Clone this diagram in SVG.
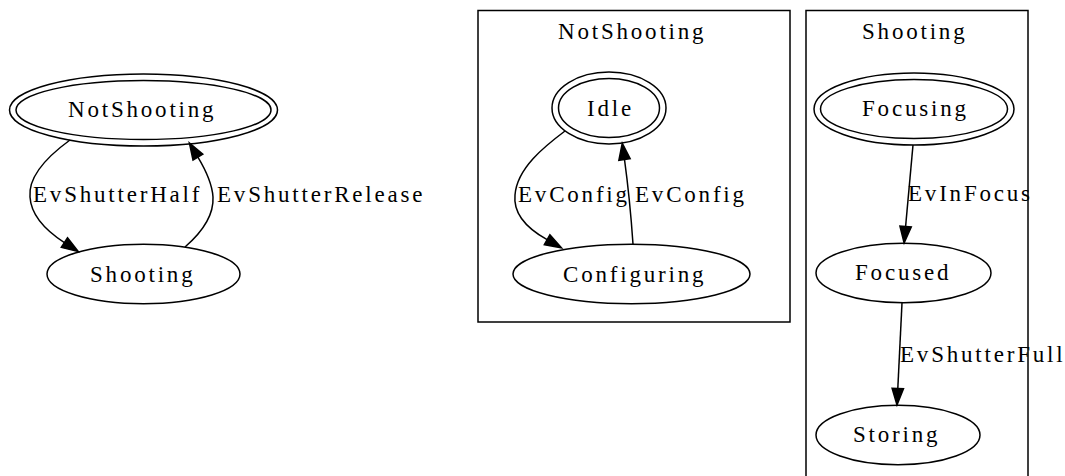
<svg xmlns="http://www.w3.org/2000/svg" width="1065" height="476" viewBox="0 0 1065 476">
  <style>
    .bg { fill: #ffffff; }
    .node ellipse { fill: none; stroke: #000; stroke-width: 1.5; }
    .cluster rect { fill: none; stroke: #000; stroke-width: 1.5; }
    .edge { fill: none; stroke: #000; stroke-width: 1.5; marker-end: url(#arrow); }
    text { font-family: "Liberation Serif", "Times New Roman", serif; font-size: 23px; letter-spacing: 2.8px; fill: #000; }
  </style>
  <defs>
    <marker id="arrow" markerUnits="userSpaceOnUse" markerWidth="20" markerHeight="14" refX="0" refY="6" orient="auto" overflow="visible">
      <path d="M0,0.3 L16.5,6 L0,11.7 Z" fill="#000" stroke="#000" stroke-width="1.5"/>
    </marker>
  </defs>
  <rect class="bg" x="0" y="0" width="1065" height="476"/>

  <!-- top-level machine -->
  <g id="node-NotShooting" class="node">
    <ellipse cx="143.5" cy="110" rx="134" ry="36"/>
    <ellipse cx="143.5" cy="110" rx="127.5" ry="29.5"/>
    <text x="68" y="117">NotShooting</text>
  </g>
  <g id="node-Shooting" class="node">
    <ellipse cx="143.5" cy="274" rx="96.5" ry="29.7"/>
    <text x="90" y="282">Shooting</text>
  </g>

  <!-- NotShooting sub-machine -->
  <g id="cluster-NotShooting" class="cluster">
    <rect x="478" y="10.5" width="312" height="311.5"/>
    <text x="558" y="39">NotShooting</text>
  </g>
  <g id="node-Idle" class="node">
    <ellipse cx="609" cy="108" rx="57" ry="36"/>
    <ellipse cx="609" cy="108" rx="50.5" ry="29.5"/>
    <text x="587" y="116">Idle</text>
  </g>
  <g id="node-Configuring" class="node">
    <ellipse cx="631.5" cy="274" rx="118.5" ry="29.7"/>
    <text x="563" y="282">Configuring</text>
  </g>

  <!-- Shooting sub-machine (box runs past the lower edge) -->
  <g id="cluster-Shooting" class="cluster">
    <rect x="806" y="10.5" width="222" height="470"/>
    <text x="862" y="39">Shooting</text>
  </g>
  <g id="node-Focusing" class="node">
    <ellipse cx="914" cy="109" rx="100" ry="36"/>
    <ellipse cx="914" cy="109" rx="93.5" ry="29.5"/>
    <text x="862" y="116">Focusing</text>
  </g>
  <g id="node-Focused" class="node">
    <ellipse cx="903.5" cy="273" rx="87.5" ry="29.7"/>
    <text x="855" y="280">Focused</text>
  </g>
  <g id="node-Storing" class="node">
    <ellipse cx="898" cy="435" rx="82" ry="29.7"/>
    <text x="853" y="442">Storing</text>
  </g>

  <!-- transitions -->
  <g id="edges">
    <path class="edge" d="M70,140 C48,156 28,176 30,197 C31,214 45,230 64.4,242.6"/>
    <text x="33" y="202">EvShutterHalf</text>

    <path class="edge" d="M185,247 C200,234 214,216 213,197 C212,182 205,169 197.9,157.2"/>
    <text x="217" y="202">EvShutterRelease</text>

    <path class="edge" d="M565,131 C545,146 517,168 515,195 C513,214 528,229 547.1,239.7"/>
    <text x="518" y="202">EvConfig</text>

    <path class="edge" d="M633,244 C631,215 628,185 624.5,159.5"/>
    <text x="635" y="202">EvConfig</text>

    <path class="edge" d="M913,145 L905.6,226.5"/>
    <text x="908" y="201">EvInFocus</text>

    <path class="edge" d="M902,303 L897.8,388.5"/>
    <text x="900" y="362">EvShutterFull</text>
  </g>
</svg>
